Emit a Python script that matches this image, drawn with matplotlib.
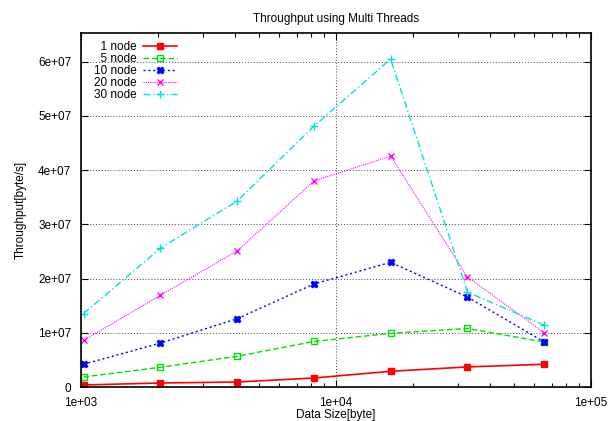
import matplotlib
matplotlib.use("Agg")
import matplotlib.pyplot as plt
import numpy as np
from matplotlib.ticker import FixedLocator, LogLocator, NullFormatter

plt.rcParams['font.family'] = ['Liberation Sans', 'DejaVu Sans']

# data
sizes = [1024, 2048, 4096, 8192, 16384, 32768, 65536]
node1 = [0.037e7, 0.074e7, 0.092e7, 0.166e7, 0.29e7, 0.37e7, 0.42e7]
node5 = [0.185e7, 0.364e7, 0.567e7, 0.84e7, 0.99e7, 1.08e7, 0.83e7]
node10 = [0.42e7, 0.81e7, 1.26e7, 1.90e7, 2.30e7, 1.66e7, 0.83e7]
node20 = [0.86e7, 1.69e7, 2.51e7, 3.80e7, 4.26e7, 2.03e7, 1.00e7]
node30 = [1.355e7, 2.56e7, 3.43e7, 4.81e7, 6.05e7, 1.75e7, 1.14e7]
labels = ['\u20071 node', '\u20075 node', '10 node', '20 node', '30 node']

yticks = [0, 1e7, 2e7, 3e7, 4e7, 5e7, 6e7]
ytick_labels = ['0', '1e+07', '2e+07', '3e+07', '4e+07', '5e+07', '6e+07']
xticks = [1e3, 1e4, 1e5]
xtick_labels = ['1e+03', '1e+04', '1e+05']

fig = plt.figure(figsize=(6.12, 4.21), dpi=100)
ax = fig.add_axes([81/612, 1-387/421, (591-81)/612, (387-33)/421])

ax.plot(sizes, node1, color='#ff0000', ls='-', lw=1.2, marker='s', ms=5,
        mfc='#ff0000', mec='#ff0000', label=labels[0])
ax.plot(sizes, node5, color='#00e000', ls=(0, (4, 2)), lw=1, marker='s', ms=5,
        mfc='none', mec='#00e000', mew=1, label=labels[1])
ax.plot(sizes, node10, color='#0000ff', ls=(0, (1.5, 2)), lw=1, marker='X', ms=5,
        mfc='#0000ff', mec='#0000ff', label=labels[2])
ax.plot(sizes, node20, color='#ff00ff', ls=(0, (1, 1)), lw=0.8, marker='x', ms=5,
        mew=1, label=labels[3])
ax.plot(sizes, node30, color='#00e0e0', ls=(0, (5, 2, 1, 2)), lw=1, marker='+', ms=6,
        mew=1, label=labels[4])

ax.set_xscale('log')
ax.set_xlim(1e3, 1e5)
ax.set_ylim(0, 6.53e7)
ax.xaxis.set_major_locator(FixedLocator(xticks))
ax.set_xticklabels(xtick_labels)
ax.xaxis.set_minor_locator(LogLocator(base=10, subs=np.arange(2, 10)))
ax.xaxis.set_minor_formatter(NullFormatter())
ax.set_yticks(yticks)
ax.set_yticklabels(ytick_labels)

ax.tick_params(which='both', direction='in', top=True, right=True, labelsize=8.5,
               width=0.8, color='black')
ax.tick_params(which='major', length=5)
ax.tick_params(which='minor', length=3)
ax.tick_params(axis='y', pad=7)
ax.tick_params(axis='x', pad=7)
for s in ax.spines.values():
    s.set_linewidth(1.2)

ax.grid(True, which='major', ls=(0, (1, 2)), color='#444444', lw=0.7)

ax.set_title('Throughput using Multi Threads', fontsize=8.5, pad=8)
ax.set_xlabel('Data Size[byte]', fontsize=8.5, labelpad=0.5)
ax.set_ylabel('Throughput[byte/s]', fontsize=8.5, labelpad=8)

ax.legend(loc='upper left', markerfirst=False, frameon=False, fontsize=8.5,
          handlelength=2.9, handletextpad=0.5, labelspacing=0.0, borderaxespad=0.3,
          bbox_to_anchor=(0.01, 1.0))

fig.savefig('out.png', dpi=100)
